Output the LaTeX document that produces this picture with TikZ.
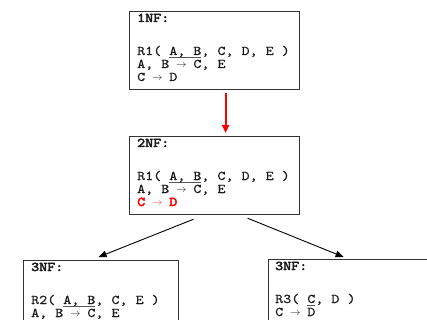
\documentclass[tikz,border=0pt]{standalone}
\usepackage{fontspec}
\usepackage{graphicx}
\usetikzlibrary{calc,arrows.meta}
\newfontfamily\cour{lmmono10-regular.otf}[FakeStretch=1.15,FakeBold=0.35,BoldFont=lmmono10-regular.otf,BoldFeatures={FakeBold=3.2}]
\newcommand\ra{\hbox to \fontcharwd\font`A{\hss\raisebox{0.9pt}{\scalebox{0.72}{$\rightarrow$}}\hss}}
\newcommand\ul[1]{\setbox0\hbox{#1}\rlap{\textcolor{ulc}{\rule[-2.4pt]{\wd0}{0.7pt}}}\box0}
\definecolor{bd}{HTML}{333333}
\definecolor{txtc}{HTML}{1A1A1A}
\definecolor{ulc}{HTML}{555555}
\definecolor{fdred}{HTML}{FF0000}
\begin{document}
\begin{tikzpicture}[x=1pt,y=-1pt,
  box/.style={draw=bd, line width=1.2pt, minimum width=170pt, minimum height=78pt, anchor=north west, inner sep=0pt},
  txt/.style={anchor=base west, inner sep=0pt, font=\cour\fontsize{13.3}{14}\selectfont, text=txtc},
  conn/.style={draw=black, line width=0.9pt, -{Triangle[length=8pt,width=6.5pt]}},
  redconn/.style={draw=fdred, line width=2pt, -{Triangle[length=8pt,width=7pt]}}]
\useasboundingbox (0,0) rectangle (427,320);
\clip (0,0) rectangle (427,320);
\fill[white] (0,0) rectangle (427,320);
% boxes
\node[box] (b1) at (129,11) {};
\node[box] (b2) at (129,136) {};
\node[box, minimum width=155pt] (b3) at (23,260) {};
\node[box] (b4) at (268,259) {};
% box 1
\node[txt] (b1h) at ($(b1.north west)+(8,11)$) {\bfseries 1NF:};
\node[txt] (b1r) at ($(b1.north west)+(8,44)$) {R1( \ul{A, B}, C, D, E )};
\node[txt] (b1a) at ($(b1.north west)+(8,57)$) {A, B \ra{} C, E};
\node[txt] (b1c) at ($(b1.north west)+(8,70)$) {C \ra{} D};
% box 2
\node[txt] (b2h) at ($(b2.north west)+(8,11)$) {\bfseries 2NF:};
\node[txt] (b2r) at ($(b2.north west)+(8,44)$) {R1( \ul{A, B}, C, D, E )};
\node[txt] (b2a) at ($(b2.north west)+(8,57)$) {A, B \ra{} C, E};
\node[txt, text=fdred] (b2c) at ($(b2.north west)+(8,70)$) {\bfseries C \textcolor{fdred!75}{\ra} D};
% box 3
\node[txt] (b3h) at ($(b3.north west)+(8,11)$) {\bfseries 3NF:};
\node[txt] (b3r) at ($(b3.north west)+(8,44)$) {R2( \ul{A, B}, C, E )};
\node[txt] (b3a) at ($(b3.north west)+(8,57)$) {A, B \ra{} C, E};
% box 4
\node[txt] (b4h) at ($(b4.north west)+(7,11)$) {\bfseries 3NF:};
\node[txt] (b4r) at ($(b4.north west)+(7,44)$) {R3( \ul{C}, D )};
\node[txt] (b4a) at ($(b4.north west)+(7,57)$) {C \ra{} D};
% connectors
\draw[redconn] ($(b1.south)+(11,3)$) -- ($(b2.north)+(11,-3)$);
\draw[conn] ($(b2.south)+(-21,4)$) -- ($(b3.north)+(-2.5,-3)$);
\draw[conn] ($(b2.south)+(33,3)$) -- ($(b4.north)+(-10,-2)$);
\end{tikzpicture}
\end{document}
